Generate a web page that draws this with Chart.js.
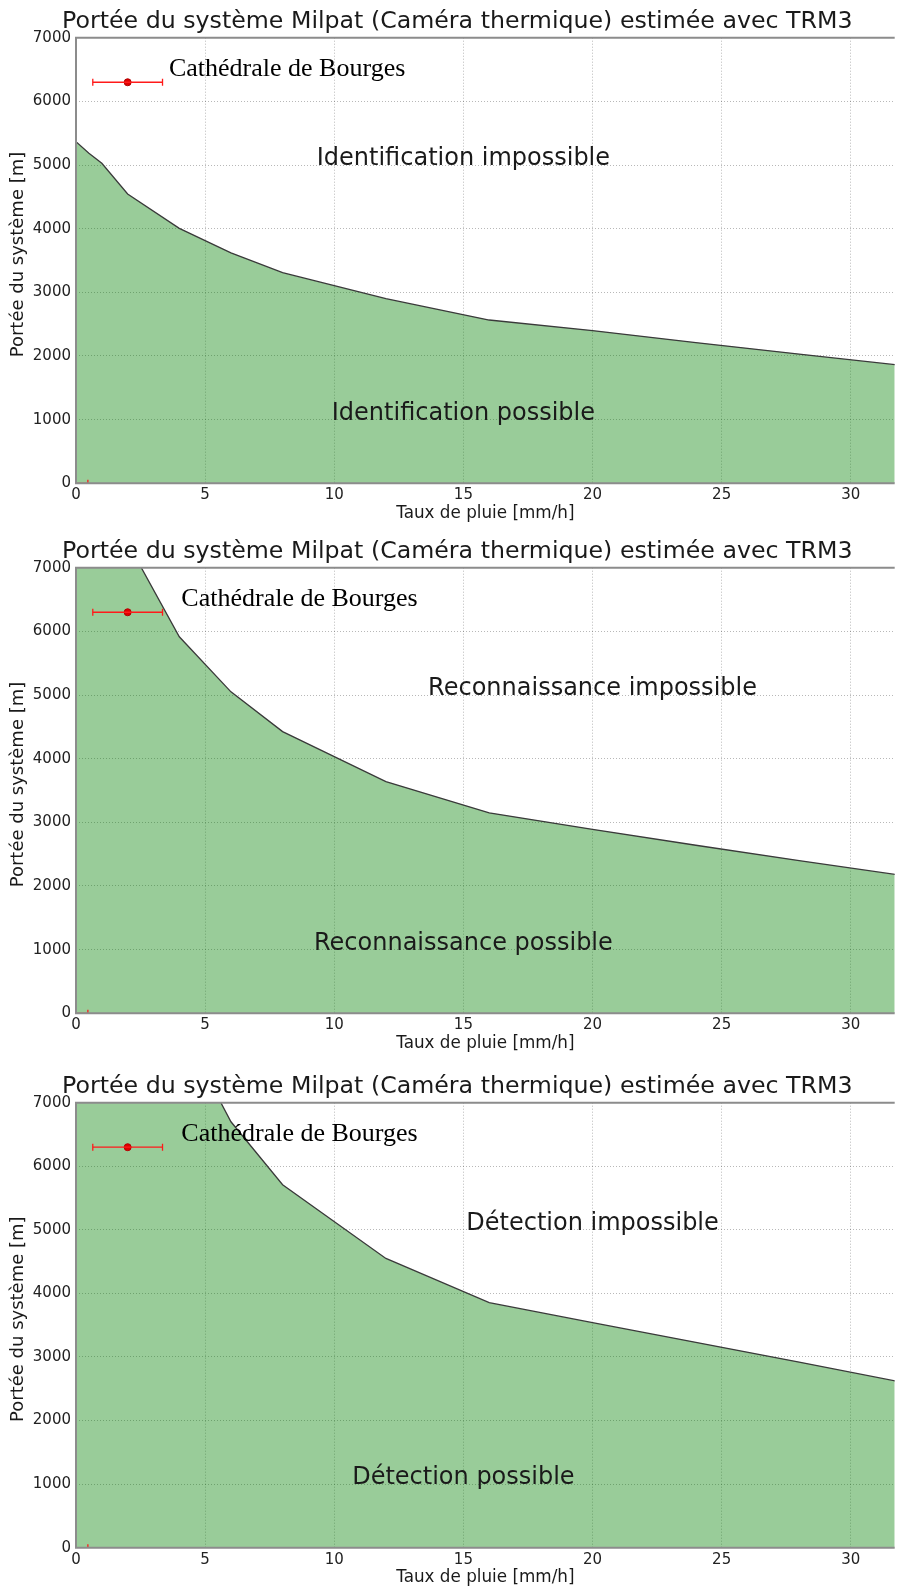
<!DOCTYPE html>
<html lang="fr">
<head>
<meta charset="utf-8">
<title>Portée du système Milpat</title>
<script src="https://cdn.jsdelivr.net/npm/chart.js@4.4.1/dist/chart.umd.min.js"></script>
<style>
  html, body { margin: 0; padding: 0; background: #fff; }
  canvas { display: block; }
</style>
</head>
<body>
<canvas id="chartIdentification" width="900" height="530"></canvas>
<canvas id="chartReconnaissance" width="900" height="530"></canvas>
<canvas id="chartDetection" width="900" height="529"></canvas>
<script>
/* ==========================
   DATA
========================== */
const rainRates = [0, 0.5, 1, 2, 4, 6, 8, 12, 16, 20, 24, 28, 32];
const identificationRange = [5366, 5185, 5027, 4545, 4005, 3620, 3308, 2900, 2565, 2400, 2210, 2030, 1850];
const recognitionRange = [8900, 8560, 8250, 7390, 5915, 5050, 4425, 3640, 3150, 2890, 2640, 2400, 2165];
const detectionRange = [11400, 11000, 10600, 9900, 8240, 6700, 5710, 4550, 3855, 3540, 3230, 2920, 2600];

// Cathédrale de Bourges: rain rate with its spread, and the distance
const landmarkName = "Cathédrale de Bourges";
const landmarkRain = 2;
const landmarkRainErr = 1.35;
const landmarkRange = 6300;
const landmarkLabelY = 6400;

// small error bar sitting on the x axis
const groundRain = 0.23;
const groundRainErr = 0.23;
const groundRange = 0;

const xTicks = [0, 5, 10, 15, 20, 25, 30];
const yTicks = [0, 1000, 2000, 3000, 4000, 5000, 6000, 7000];

const TITLE = "Portée du système Milpat (Caméra thermique) estimée avec TRM3";
const X_TITLE = "Taux de pluie [mm/h]";
const Y_TITLE = "Portée du système [m]";

/* ==========================
   TEXT + FRAME PLUGIN
========================== */
const textLayer = {
  id: "textLayer",
  afterDatasetsDraw(chart, args, opts) {
    const { ctx, chartArea: a } = chart;
    const x = chart.scales.x;
    const y = chart.scales.y;
    ctx.save();

    // axes frame (left, top, bottom)
    ctx.strokeStyle = "#8c8c8c";
    ctx.lineWidth = 2;
    ctx.beginPath();
    ctx.moveTo(a.right, a.top);
    ctx.lineTo(a.left, a.top);
    ctx.lineTo(a.left, a.bottom);
    ctx.lineTo(a.right, a.bottom);
    ctx.stroke();

    ctx.fillStyle = "#1a1a1a";
    ctx.textBaseline = "alphabetic";

    ctx.font = '23.7px "DejaVu Sans"';
    ctx.textAlign = "left";
    ctx.fillText(TITLE, 62, a.top - 10);

    ctx.font = '24px "DejaVu Sans"';
    ctx.textAlign = "center";
    opts.regions.forEach(function (r) {
      ctx.fillText(r.text, x.getPixelForValue(r.x), y.getPixelForValue(r.y));
    });

    ctx.font = '26px "Liberation Serif"';
    ctx.textAlign = "left";
    ctx.fillStyle = "#000";
    ctx.fillText(landmarkName, x.getPixelForValue(opts.landmarkX), y.getPixelForValue(landmarkLabelY));

    ctx.fillStyle = "#1a1a1a";
    ctx.font = '16.8px "DejaVu Sans"';
    ctx.textAlign = "center";
    ctx.textBaseline = "middle";
    ctx.fillText(X_TITLE, (a.left + a.right) / 2, a.bottom + 30);

    ctx.font = '18px "DejaVu Sans"';
    ctx.translate(18, (a.top + a.bottom) / 2 - 6);
    ctx.rotate(-Math.PI / 2);
    ctx.fillText(Y_TITLE, 0, 0);
    ctx.restore();
  },
};

/* ==========================
   CHART BUILDER
========================== */
function errorBar(cx, err, cy) {
  return {
    type: "line",
    order: 0,
    data: [{ x: cx - err, y: cy }, { x: cx + err, y: cy }],
    borderColor: "#ff1a1a",
    borderWidth: 1.3,
    pointStyle: "line",
    pointRotation: 90,
    pointRadius: 3.5,
    pointBorderColor: "#ff1a1a",
    pointBorderWidth: 1.3,
    fill: false,
  };
}

function plainNumber(value) {
  return String(value);
}

function createRangeChart(canvasId, values, setup) {
  const canvas = document.getElementById(canvasId);
  const h = canvas.height;

  return new Chart(canvas.getContext("2d"), {
    type: "line",
    data: {
      datasets: [
        errorBar(landmarkRain, landmarkRainErr, landmarkRange),
        {
          type: "scatter",
          order: 0,
          data: [{ x: landmarkRain, y: landmarkRange }],
          pointRadius: 3.5,
          backgroundColor: "#e00000",
          borderColor: "#b00000",
          borderWidth: 1,
        },
        errorBar(groundRain, groundRainErr, groundRange),
        {
          order: 1,
          data: rainRates.map(function (r, i) { return { x: r, y: values[i] }; }),
          borderColor: "#3a3a3a",
          borderWidth: 1.3,
          backgroundColor: "rgba(0,128,0,0.4)",
          fill: "origin",
          pointRadius: 0,
          tension: 0,
        },
      ],
    },
    options: {
      responsive: false,
      animation: false,
      layout: { padding: { top: setup.plotTop, right: 0, bottom: 0, left: 0 } },
      scales: {
        x: {
          type: "linear",
          min: 0,
          max: 31.7,
          afterFit: function (scale) {
            scale.height = h - setup.plotBottom;
            scale.paddingLeft = 0;
            scale.paddingRight = 0;
          },
          afterBuildTicks: function (scale) {
            scale.ticks = xTicks.map(function (v) { return { value: v }; });
          },
          ticks: {
            color: "#222",
            font: { family: "DejaVu Sans", size: 15 },
            padding: 3,
            maxRotation: 0,
            autoSkip: false,
            callback: plainNumber,
          },
          grid: { color: "rgba(0,0,0,0.28)", lineWidth: 1, drawTicks: false },
          border: { display: false, dash: [1, 2] },
        },
        y: {
          min: 0,
          max: 7000,
          afterFit: function (scale) {
            scale.width = 76;
            scale.paddingTop = 0;
            scale.paddingBottom = 0;
          },
          afterBuildTicks: function (scale) {
            scale.ticks = yTicks.map(function (v) { return { value: v }; });
          },
          ticks: {
            color: "#222",
            font: { family: "DejaVu Sans", size: 15 },
            padding: 5,
            callback: plainNumber,
          },
          grid: { color: "rgba(0,0,0,0.28)", lineWidth: 1, drawTicks: false },
          border: { display: false, dash: [1, 2] },
        },
      },
      plugins: {
        legend: { display: false },
        tooltip: { enabled: false },
        textLayer: setup,
      },
    },
    plugins: [textLayer],
  });
}

createRangeChart("chartIdentification", identificationRange, {
  plotTop: 37.7,
  plotBottom: 483.3,
  landmarkX: 3.6,
  regions: [
    { text: "Identification impossible", x: 15, y: 5000 },
    { text: "Identification possible", x: 15, y: 1000 },
  ],
});

createRangeChart("chartReconnaissance", recognitionRange, {
  plotTop: 37.7,
  plotBottom: 483.3,
  landmarkX: 4.08,
  regions: [
    { text: "Reconnaissance impossible", x: 20, y: 5000 },
    { text: "Reconnaissance possible", x: 15, y: 1000 },
  ],
});

createRangeChart("chartDetection", detectionRange, {
  plotTop: 42.7,
  plotBottom: 487.7,
  landmarkX: 4.08,
  regions: [
    { text: "Détection impossible", x: 20, y: 5000 },
    { text: "Détection possible", x: 15, y: 1000 },
  ],
});
</script>
</body>
</html>
